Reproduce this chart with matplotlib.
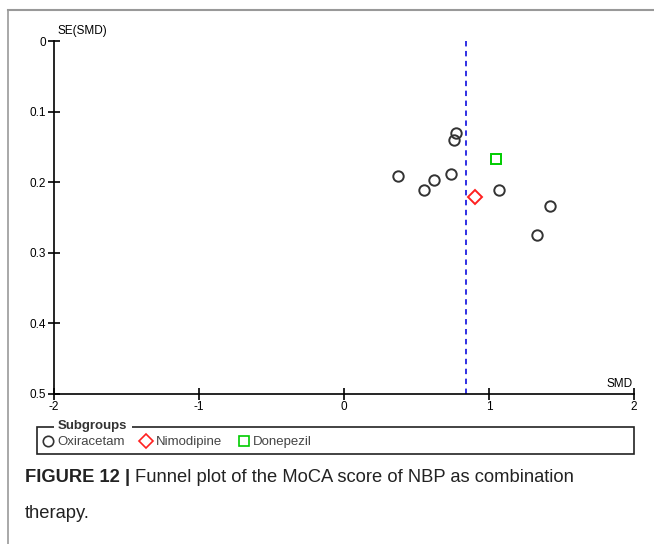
import matplotlib
matplotlib.use("Agg")
import matplotlib.pyplot as plt
from matplotlib.lines import Line2D
from matplotlib.patches import Rectangle

# study points (SMD, SE)
oxi_smd = [0.37, 0.55, 0.62, 0.74, 0.77, 0.76, 1.07, 1.42, 1.33]
oxi_se = [0.191, 0.211, 0.197, 0.188, 0.131, 0.140, 0.211, 0.234, 0.275]
nim_smd = [0.90]
nim_se = [0.221]
don_smd = [1.05]
don_se = [0.167]
pooled = 0.84

xticks = [-2, -1, 0, 1, 2]
yticks = [0, 0.1, 0.2, 0.3, 0.4, 0.5]
ytick_labels = ["0", "0.1", "0.2", "0.3", "0.4", "0.5"]

plt.rcParams['font.family'] = ['Liberation Sans', 'DejaVu Sans']
plt.rcParams['axes.unicode_minus'] = False

W, H = 654, 544
fig = plt.figure(figsize=(W / 100, H / 100), dpi=100)
ax = fig.add_axes([54 / W, 1 - 394 / H, 580 / W, 353 / H])

ax.plot(oxi_smd, oxi_se, 'o', ms=7.5, mfc='none', mec='#333333', mew=1.4, ls='none')
ax.plot(nim_smd, nim_se, 'D', ms=7, mfc='none', mec='#ff2020', mew=1.4, ls='none')
ax.plot(don_smd, don_se, 's', ms=6.5, mfc='none', mec='#00cc00', mew=1.4, ls='none')
ax.plot([pooled, pooled], [0, 0.5], color='#2020e0', lw=1.3, ls=(0, (3, 2.5)))

ax.set_xlim(-2, 2)
ax.set_ylim(0.5, 0)
ax.set_xticks(xticks)
ax.set_yticks(yticks)
ax.set_yticklabels(ytick_labels)
for s in ['top', 'right']:
    ax.spines[s].set_visible(False)
for s in ['left', 'bottom']:
    ax.spines[s].set_linewidth(1.2)
    ax.spines[s].set_clip_on(False)
ax.tick_params(direction='inout', length=8, width=1.2, labelsize=8.5, pad=1, colors='black')
ax.tick_params(axis='y', pad=2)
ax.patch.set_visible(False)

fig.text(58 / W, 1 - 31 / H, "SE(SMD)", fontsize=8.5, ha='left', va='center')
fig.text(633 / W, 1 - 384 / H, "SMD", fontsize=8.5, ha='right', va='center')

# legend box with title sitting on the border
bx0, bx1, by0, by1 = 37, 634, 427, 454
fig.add_artist(Rectangle((bx0 / W, 1 - by1 / H), (bx1 - bx0) / W, (by1 - by0) / H,
                         transform=fig.transFigure, fill=False, ec='#222222', lw=1.2))
fig.text(58 / W, 1 - 426 / H, "Subgroups", fontsize=9.5, fontweight='bold', ha='left', va='center',
         color='#333333', bbox=dict(fc='white', ec='none', pad=3))
handles = [Line2D([], [], marker='o', ms=7.5, mfc='none', mec='#333333', mew=1.2, ls='none'),
           Line2D([], [], marker='D', ms=7, mfc='none', mec='#ff2020', mew=1.2, ls='none'),
           Line2D([], [], marker='s', ms=6.5, mfc='none', mec='#00cc00', mew=1.2, ls='none')]
fig.legend(handles, ["Oxiracetam", "Nimodipine", "Donepezil"], loc='center left',
           bbox_to_anchor=(36 / W, 1 - 442 / H), ncol=3, frameon=False, fontsize=9.5,
           handlelength=0.8, handletextpad=0.3, columnspacing=1.25, borderpad=0, labelcolor='#444444')

# page border lines
fig.add_artist(Line2D([8 / W, 1], [1 - 10 / H, 1 - 10 / H], transform=fig.transFigure, color='#999999', lw=1.5))
fig.add_artist(Line2D([8 / W, 8 / W], [1 - 10 / H, 0], transform=fig.transFigure, color='#999999', lw=1.2))

# caption
r = fig.canvas.get_renderer()
t1 = fig.text(25 / W, 1 - 478 / H, "FIGURE 12 | ", fontsize=13.2, fontweight='bold', ha='left', va='center', color='#222222')
bb = t1.get_window_extent(renderer=r)
fig.text(bb.x1 / W, 1 - 478 / H, "Funnel plot of the MoCA score of NBP as combination", fontsize=13.2,
         ha='left', va='center', color='#222222')
fig.text(25 / W, 1 - 513 / H, "therapy.", fontsize=13.2, ha='left', va='center', color='#222222')

fig.savefig("out.png", dpi=100)
